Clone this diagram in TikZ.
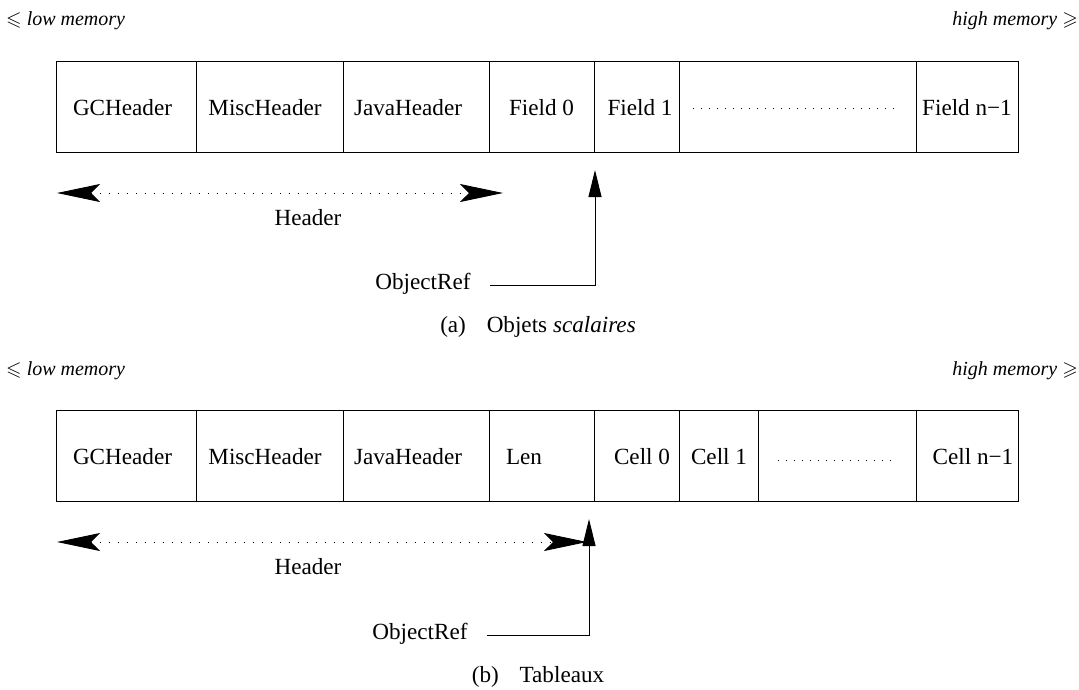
\documentclass[tikz,border=0pt]{standalone}
\usepackage{amssymb}
\usepackage{fontspec}
\setmainfont{Liberation Serif}
\usetikzlibrary{arrows.meta}

\tikzset{
  cell/.style={draw, line width=1.1pt, minimum height=91pt, inner sep=0pt, anchor=north west},
  lbl/.style={font=\fontsize{23.15}{28}\selectfont, inner sep=0pt, anchor=base},
  memlbl/.style={font=\fontsize{20}{24}\selectfont\itshape, inner sep=0pt},
  filler/.style={line width=1pt, dash pattern=on 0.9pt off 7.1pt},
  span/.style={line width=0.9pt, dash pattern=on 0.9pt off 8.1pt,
    {Stealth[length=43pt,width=18pt,inset=9pt]}-{Stealth[length=43pt,width=18pt,inset=9pt]}},
  pointer/.style={line width=1pt, -{Triangle[length=27pt,width=13pt]}}
}

\begin{document}
\begin{tikzpicture}[x=1pt,y=-1pt]
\useasboundingbox (0,0) rectangle (1079,689);

% ---------- (a) scalar objects ----------
\node[memlbl, anchor=base west] (a-low) at (6,25) {$\leqslant$\ low memory};
\node[memlbl, anchor=base east] (a-high) at (1078,25) {high memory $\geqslant$};

\node[cell, minimum width=140.5pt] (a-gc)   at (55.5,61) {};
\node[cell, minimum width=147pt]   (a-misc) at (196,61) {};
\node[cell, minimum width=146pt]   (a-java) at (343,61) {};
\node[cell, minimum width=105pt]   (a-f0)   at (489,61) {};
\node[cell, minimum width=85pt]    (a-f1)   at (594,61) {};
\node[cell, minimum width=237pt]   (a-gap)  at (679,61) {};
\node[cell, minimum width=102pt]   (a-fn)   at (916,61) {};

\node[lbl] (a-gc-t)   at (122.5,115) {GCHeader};
\node[lbl] (a-misc-t) at (265,115) {MiscHeader};
\node[lbl] (a-java-t) at (408,115) {JavaHeader};
\node[lbl] (a-f0-t)   at (541.5,115) {Field 0};
\node[lbl] (a-f1-t)   at (640,115) {Field 1};
\node[lbl] (a-fn-t)   at (967,115) {Field n−1};
\draw[filler] ([xshift=14pt,yshift=-1.5pt]a-gap.west) -- ([xshift=-18pt,yshift=-1.5pt]a-gap.east);

\coordinate (a-hl) at (57,193);
\coordinate (a-hr) at (503,193);
\draw[span] (a-hl) -- (a-hr);
\node[lbl] (a-hdr) at (308,225) {Header};

\node[lbl, anchor=center] (a-ref) at (423,284) {ObjectRef};
\coordinate (a-tip) at (595,170);
\draw[pointer] ([xshift=19pt,yshift=-1pt]a-ref.east) -| (a-tip);

\node[lbl] (a-cap) at (538,332) {(a)\hspace{0.9em}Objets \textit{scalaires}};

% ---------- (b) arrays ----------
\node[memlbl, anchor=base west] (b-low) at (6,375) {$\leqslant$\ low memory};
\node[memlbl, anchor=base east] (b-high) at (1078,375) {high memory $\geqslant$};

\node[cell, minimum width=140.5pt] (b-gc)   at (55.5,410) {};
\node[cell, minimum width=147pt]   (b-misc) at (196,410) {};
\node[cell, minimum width=146pt]   (b-java) at (343,410) {};
\node[cell, minimum width=105pt]   (b-len)  at (489,410) {};
\node[cell, minimum width=85pt]    (b-c0)   at (594,410) {};
\node[cell, minimum width=79pt]    (b-c1)   at (679,410) {};
\node[cell, minimum width=158pt]   (b-gap)  at (758,410) {};
\node[cell, minimum width=102pt]   (b-cn)   at (916,410) {};

\node[lbl] (b-gc-t)   at (122.5,464) {GCHeader};
\node[lbl] (b-misc-t) at (265,464) {MiscHeader};
\node[lbl] (b-java-t) at (408,464) {JavaHeader};
\node[lbl] (b-len-t)  at (524,464) {Len};
\node[lbl] (b-c0-t)   at (642,464) {Cell 0};
\node[lbl] (b-c1-t)   at (719,464) {Cell 1};
\node[lbl] (b-cn-t)   at (973,464) {Cell n−1};
\draw[filler] ([xshift=20pt,yshift=-4pt]b-gap.west) -- ([xshift=-22pt,yshift=-4pt]b-gap.east);

\coordinate (b-hl) at (57,542);
\coordinate (b-hr) at (587,542);
\draw[span] (b-hl) -- (b-hr);
\node[lbl] (b-hdr) at (308,574) {Header};

\node[lbl, anchor=center] (b-ref) at (420,634) {ObjectRef};
\coordinate (b-tip) at (589,519);
\draw[pointer] ([xshift=19pt,yshift=-1pt]b-ref.east) -| (b-tip);

\node[lbl] (b-cap) at (538,682) {(b)\hspace{0.9em}Tableaux};
\end{tikzpicture}
\end{document}
